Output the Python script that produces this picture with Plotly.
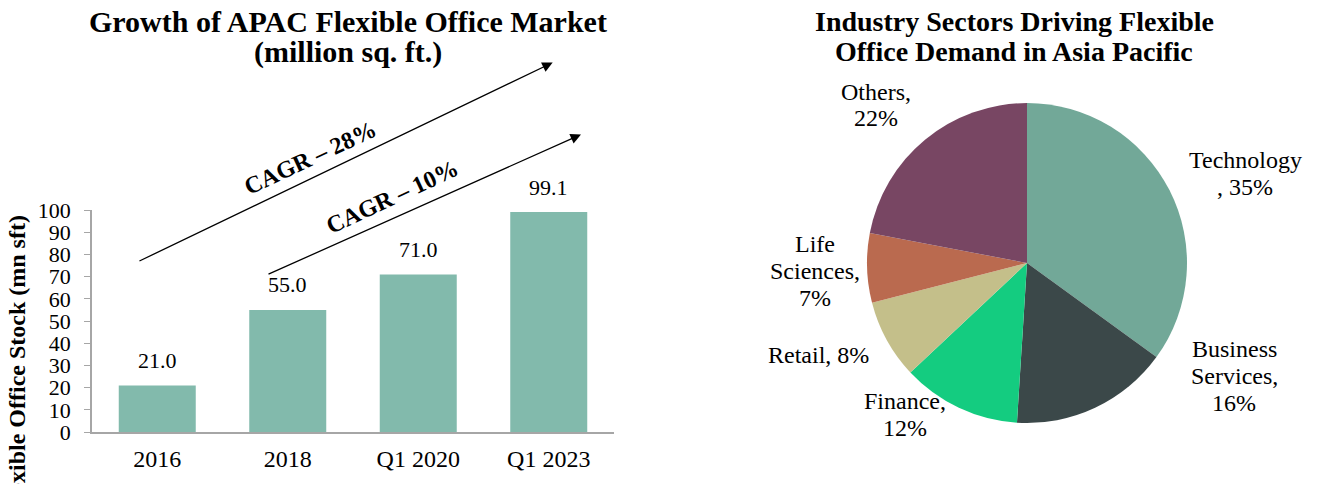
import plotly.graph_objects as go

# ---- data ----
years = ["2016", "2018", "Q1 2020", "Q1 2023"]
stock = [21.0, 55.0, 71.0, 99.1]
y_ticks = [0, 10, 20, 30, 40, 50, 60, 70, 80, 90, 100]

sectors = ["Technology", "Business Services", "Finance", "Retail", "Life Sciences", "Others"]
shares = [35, 16, 12, 8, 7, 22]
sector_label_lines = [["Technology", ", 35%"], ["Business", "Services,", "16%"], ["Finance,", "12%"],
                      ["Retail, 8%"], ["Life", "Sciences,", "7%"], ["Others,", "22%"]]
sector_colors = ["#72A898", "#3B4849", "#14CC80", "#C4BF8A", "#BA6A4F", "#784663"]

cagr_labels = ["CAGR – 28%", "CAGR – 10%"]

W, H = 1320, 484
FONT = "Liberation Serif, Times New Roman, serif"

def px(x):
    return x / W

def py(y):
    return 1 - y / H

fig = go.Figure()

fig.add_trace(go.Bar(
    x=list(range(len(years))), y=stock, marker=dict(color="#82BAAC", line=dict(width=0)),
    width=0.59, showlegend=False, hoverinfo="skip",
    xaxis="x", yaxis="y",
))

fig.add_trace(go.Pie(
    labels=sectors, values=shares, sort=False, direction="clockwise", rotation=0,
    marker=dict(colors=sector_colors, line=dict(width=0)),
    textinfo="none", textposition="none", showlegend=False,
    domain=dict(x=[px(867), px(1187)], y=[py(423), py(103)]),
))

annotations = []
# bar value labels
for i, v in enumerate(stock):
    annotations.append(dict(x=i, y=v, xref="x", yref="y", text=f"{v:.1f}", showarrow=False,
                            yanchor="middle", yshift=25, font=dict(family=FONT, size=22, color="black")))

# CAGR arrows (data coordinates: category index on x)
arrows = [(-0.148, 76.7, 3.03, 166.4), (0.841, 70.8, 3.247, 134.0)]
for (x0, y0, x1, y1) in arrows:
    annotations.append(dict(x=x1, y=y1, ax=x0, ay=y0, xref="x", yref="y", axref="x", ayref="y",
                            text="", showarrow=True, arrowhead=2, arrowsize=1.6, arrowwidth=1.3,
                            arrowcolor="black"))
cagr_pos = [(310, 158), (392, 197)]
for t, (cx, cy) in zip(cagr_labels, cagr_pos):
    annotations.append(dict(x=px(cx), y=py(cy), xref="paper", yref="paper", text=f"<b>{t}</b>",
                            textangle=-25, showarrow=False, xanchor="center", yanchor="middle",
                            font=dict(family=FONT, size=24, color="black")))

# titles (one annotation per line to keep the tight leading)
title_specs = [(348, 30, ["Growth of APAC Flexible Office Market", "(million sq. ft.)"]),
               (1014, 28, ["Industry Sectors Driving Flexible", "Office Demand in Asia Pacific"])]
for cx, fs, lines in title_specs:
    for k, line in enumerate(lines):
        annotations.append(dict(x=px(cx), y=py(22 + 30 * k), xref="paper", yref="paper",
                                text=f"<b>{line}</b>", showarrow=False, xanchor="center",
                                yanchor="middle", font=dict(family=FONT, size=fs, color="black")))

# y axis title (partially cut at the left edge)
annotations.append(dict(x=px(17), y=py(365), xref="paper", yref="paper",
                        text="<b>Flexible Office Stock (mn sft)</b>", textangle=-90,
                        showarrow=False, xanchor="center", yanchor="middle",
                        font=dict(family=FONT, size=24, color="black")))

# pie labels, one line at a time (27 px pitch)
label_pos = [(1245, 173), (1234, 376), (905, 414), (818, 355), (815, 271), (876, 105)]
for lines, (cx, cy) in zip(sector_label_lines, label_pos):
    n = len(lines)
    for k, line in enumerate(lines):
        yy = cy + (k - (n - 1) / 2) * 27
        annotations.append(dict(x=px(cx), y=py(yy), xref="paper", yref="paper", text=line,
                                showarrow=False, xanchor="center", yanchor="middle",
                                font=dict(family=FONT, size=24, color="black")))

fig.update_layout(
    width=W, height=H, margin=dict(l=0, r=0, t=0, b=0, autoexpand=False),
    paper_bgcolor="white", plot_bgcolor="white",
    font=dict(family=FONT, size=22, color="black"),
    xaxis=dict(domain=[px(92), px(614)], showgrid=False, showline=True, linecolor="#A6A6A6",
               linewidth=1.5, ticks="", tickvals=list(range(len(years))), ticktext=years,
               tickfont=dict(family=FONT, size=24, color="black"), ticklabelstandoff=4,
               range=[-0.5, 3.5], fixedrange=True, automargin=False),
    yaxis=dict(domain=[py(432), py(210)], range=[0, 100], tickvals=y_ticks, showgrid=False,
               showline=True, linecolor="#A6A6A6", linewidth=1.5, ticks="outside", ticklen=6,
               tickcolor="#A6A6A6", tickfont=dict(family=FONT, size=22, color="black"),
               ticklabelstandoff=9, zeroline=False, fixedrange=True, automargin=False),
    annotations=annotations,
)

fig.write_html("out.html", config={"displayModeBar": False},
               post_script="document.body.style.margin='0px';")
